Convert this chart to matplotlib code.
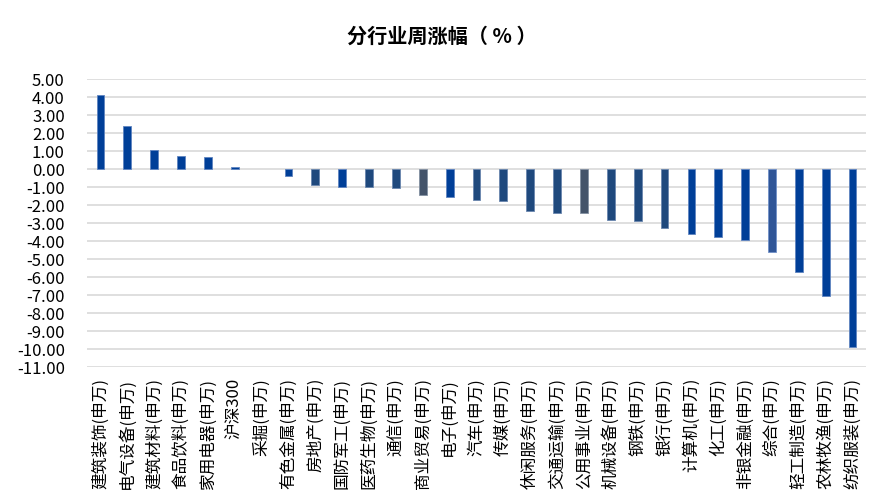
import matplotlib
matplotlib.use("Agg")
import matplotlib.pyplot as plt
import numpy as np

plt.rcParams['font.family'] = ['Noto Sans CJK SC', 'DejaVu Sans']
plt.rcParams['axes.unicode_minus'] = False

categories = ['建筑装饰(申万)', '电气设备(申万)', '建筑材料(申万)', '食品饮料(申万)', '家用电器(申万)',
              '沪深300', '采掘(申万)', '有色金属(申万)', '房地产(申万)', '国防军工(申万)',
              '医药生物(申万)', '通信(申万)', '商业贸易(申万)', '电子(申万)', '汽车(申万)',
              '传媒(申万)', '休闲服务(申万)', '交通运输(申万)', '公用事业(申万)', '机械设备(申万)',
              '钢铁(申万)', '银行(申万)', '计算机(申万)', '化工(申万)', '非银金融(申万)',
              '综合(申万)', '轻工制造(申万)', '农林牧渔(申万)', '纺织服装(申万)']
values = [4.09, 2.37, 1.05, 0.70, 0.65, 0.10, 0.00, -0.40, -0.90, -1.02,
          -1.02, -1.08, -1.47, -1.53, -1.70, -1.75, -2.32, -2.43, -2.42, -2.82,
          -2.87, -3.27, -3.60, -3.77, -3.94, -4.60, -5.72, -7.06, -9.90]
color_groups = ['B', 'B', 'B', 'B', 'B', 'B', 'B', 'B', 'D', 'B',
                'D', 'D', 'G', 'B', 'D', 'D', 'D', 'D', 'G', 'D',
                'D', 'D', 'B', 'B', 'B', 'M', 'B', 'B', 'B']
yticks = [5, 4, 3, 2, 1, 0, -1, -2, -3, -4, -5, -6, -7, -8, -9, -10, -11]

palette = {'B': '#003F98', 'D': '#1F497D', 'G': '#44546A', 'M': '#2F5597'}
edges = {'B': '#5F84C0', 'D': '#6A86AE', 'G': '#8390A2', 'M': '#7090C8'}

fig = plt.figure(figsize=(8.89, 5.04), dpi=100)
ax = fig.add_axes([87/889, 1-367/504, (866-87)/889, (367-79)/504])

x = np.arange(len(categories))
ax.bar(x, values, width=0.29,
       color=[palette[c] for c in color_groups],
       edgecolor=[edges[c] for c in color_groups],
       linewidth=[0.6 if v != 0 else 0 for v in values], zorder=3)

ax.set_xlim(-0.5, len(categories) - 0.5)
ax.set_ylim(-11, 5)
ax.set_yticks(yticks)
ax.set_yticklabels([f'{v:.2f}' for v in yticks], fontsize=12)
ax.yaxis.grid(True, color='#D9D9D9', linewidth=1.2, zorder=0)
ax.set_axisbelow(True)
ax.set_xticks(x)
ax.set_xticklabels(categories, rotation=90, fontsize=12)
ax.tick_params(axis='y', length=0, pad=16)
ax.tick_params(axis='x', length=0, pad=8)
for s in ax.spines.values():
    s.set_visible(False)

fig.text(0.497, 1-36/504, '分行业周涨幅（ % ）', ha='center', va='center',
         fontsize=14.5, fontweight='bold')

fig.savefig('out.png', dpi=100)
